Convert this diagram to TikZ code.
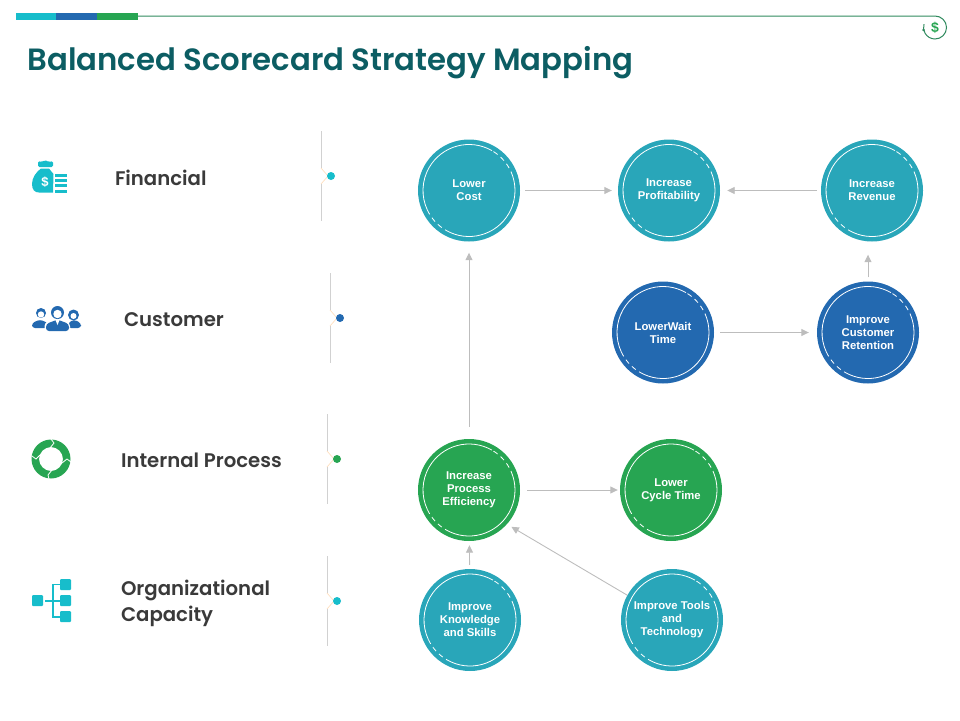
\documentclass[tikz,border=0pt]{standalone}
\usepackage{fontspec}
\setmainfont{Liberation Sans}
\newfontfamily\headfont[BoldFont={Poppins SemiBold}]{Poppins}
\usetikzlibrary{arrows.meta}
\definecolor{cteal}{HTML}{29A6B9}
\definecolor{cblue}{HTML}{2369B0}
\definecolor{cgreen}{HTML}{27A552}
\definecolor{bteal}{HTML}{17BDCB}
\definecolor{ttl}{HTML}{0C5D63}
\definecolor{lbl}{HTML}{3A3A3A}
\definecolor{arr}{HTML}{BDBDBD}
\definecolor{topline}{HTML}{2F8A5E}
\tikzset{
 x=1pt,y=-1pt,
 disc/.style={circle,minimum size=102pt,inner sep=0pt,fill=#1,text=white,align=center,
   font=\fontsize{11.3}{13}\selectfont\bfseries},
 link/.style={draw=arr,line width=0.9pt,-{Triangle[length=7.5pt,width=7pt]}},
 sidelabel/.style={anchor=west,align=left,text=lbl,font=\headfont\fontsize{19.7}{26}\selectfont\bfseries},
 ringline/.style={draw=white,line width=0.8pt},
 spine/.style={draw=black!18,line width=0.8pt},
 notch/.style={draw=orange!25,line width=0.7pt},
}
\newcommand{\ring}[1]{%
 \draw[ringline] (#1)++(60:46pt) arc[start angle=60,end angle=205,radius=46pt];
 \draw[ringline] (#1)++(240:46pt) arc[start angle=240,end angle=378,radius=46pt];
 \draw[ringline,dash pattern=on 5pt off 4pt] (#1)++(18:46pt) arc[start angle=18,end angle=60,radius=46pt];
 \draw[ringline,dash pattern=on 5pt off 4pt] (#1)++(205:46pt) arc[start angle=205,end angle=240,radius=46pt];
}
\newcommand{\sidemark}[3]{% x, ytop, colour
 \draw[spine] (#1,#2) -- ++(0,37);
 \draw[spine] (#1,#2+53) -- ++(0,37);
 \draw[notch] (#1,#2+37) -- ++(7,8) -- ++(-7,8);
 \fill[#3] (#1+10,#2+45) circle[radius=4pt];
}
\begin{document}
\begin{tikzpicture}
\useasboundingbox (0,0) rectangle (960,720);
% top bar
\fill[bteal] (16,13) rectangle (56,20);
\fill[cblue] (56,13) rectangle (97,20);
\fill[cgreen] (97,13) rectangle (138,20);
\draw[draw=topline,line width=1pt] (138,16) -- (935,16)
  arc[start angle=90,end angle=-197,radius=11.5pt];
\fill[topline] (923.5,30) circle[radius=1.3pt];
\node[text=cgreen,font=\fontsize{14}{14}\selectfont\bfseries] (dollar) at (935,27.5) {\$};
\node[anchor=west,text=ttl,font=\headfont\fontsize{30.75}{34}\selectfont\bfseries] (title) at (24,63) {Balanced Scorecard Strategy Mapping};
% side labels
\node[sidelabel] (l1) at (111.5,178) {Financial};
\node[sidelabel] (l2) at (120.5,320) {Customer};
\node[sidelabel] (l3) at (117.5,460) {Internal Process};
\node[sidelabel] (l4) at (117.5,603) {Organizational\\Capacity};
\sidemark{321}{131}{bteal}
\sidemark{330}{273}{cblue}
\sidemark{327}{414}{cgreen}
\sidemark{327}{556}{bteal}
% money bag icon
\fill[bteal,rounded corners=1.5pt] (38,161) -- (42,162) -- (45,160) -- (49,162) -- (53,161) -- (53,167) -- (38,167) -- cycle;
\fill[bteal] (41,168.5) .. controls (36,172) and (32,178) .. (32,184)
  .. controls (32,190) and (35,192.5) .. (39,192.5) -- (53,192.5) -- (53.5,174) -- (49,168.5) -- cycle;
\node[text=white,font=\fontsize{13}{13}\selectfont\bfseries,inner sep=0pt] (bagd) at (45,182) {\$};
\foreach \yy in {175,180,185,191}{\fill[bteal] (55,\yy-1.5) rectangle (67,\yy+1.5);}
% people icon
\fill[cblue,rounded corners=3pt] (32,328) -- (32,323) -- (40,319.5) -- (48,323) -- (48,328) -- cycle;
\fill[cblue] (41,313) circle[radius=5pt];
\fill[white] (41,314.5) circle[radius=3.2pt];
\fill[cblue,rounded corners=3pt] (68,328) -- (68,323) -- (74,319.5) -- (81,323) -- (81,328) -- cycle;
\fill[cblue] (73.5,315) circle[radius=5.5pt];
\fill[white] (73.5,316) circle[radius=3pt];
\fill[white,rounded corners=3pt] (44.5,332) -- (44.5,323) -- (57.5,318) -- (70,323) -- (70,332) -- cycle;
\fill[cblue,rounded corners=3pt] (46,331) -- (46,324) -- (57.5,319.5) -- (69,324) -- (69,331) -- cycle;
\fill[cblue] (57.5,312.5) circle[radius=6.5pt];
\fill[white] (57.5,314) circle[radius=4.2pt];
\fill[white] (55.5,320) -- (59.5,320) -- (57.5,325) -- cycle;
% cycle icon
\fill[cgreen,even odd rule] (51,459) circle[radius=19.5pt] (51,459) circle[radius=12pt];
\draw[white,line width=0.8pt] (51,439) -- (54,443) -- (50,448);
\draw[white,line width=0.8pt] (71,462) -- (67,459) -- (62,463);
\draw[white,line width=0.8pt] (49,479) -- (48,475) -- (52,470);
\draw[white,line width=0.8pt] (32,456) -- (36,459) -- (40,455);
% org icon
\fill[bteal,rounded corners=1pt] (32,595) rectangle (43,606);
\fill[bteal,rounded corners=1pt] (60,579) rectangle (71,590);
\fill[bteal,rounded corners=1pt] (60,595) rectangle (71,606);
\fill[bteal,rounded corners=1pt] (60,611) rectangle (71,622);
\draw[bteal,line width=1.2pt] (60,584.5) -- (53,584.5) -- (53,617) -- (60,617);
\draw[bteal,line width=1.2pt] (45,601) -- (60,601);
% circles
\node[disc=cteal] (cost) at (469,190.5) {Lower\\Cost};
\node[disc=cteal] (prof) at (669,190.5) {Increase\\Profitability};
\node[disc=cteal] (rev) at (872,190.5) {Increase\\Revenue};
\node[disc=cblue] (wait) at (663,332.5) {LowerWait\\Time};
\node[disc=cblue] (ret) at (868,332.5) {Improve\\Customer\\Retention};
\node[disc=cgreen] (proc) at (469,490) {Increase\\Process\\Efficiency};
\node[disc=cgreen] (cyc) at (671,490) {Lower\\Cycle Time};
\node[disc=cteal] (know) at (470,620) {Improve\\Knowledge\\and Skills};
\node[disc=cteal] (tool) at (672,620) {Improve Tools\\and\\Technology};
\foreach \n in {cost,prof,rev,wait,ret,proc,cyc,know,tool}{\ring{\n}}
% connectors
\draw[link,shorten <=5pt,shorten >=6pt] (cost) -- (prof);
\draw[link,shorten <=4pt,shorten >=7pt] (rev) -- (prof);
\draw[link,shorten <=4pt,shorten >=13pt] (ret.north) -- (ret.north |- rev.south);
\draw[link,shorten <=6pt,shorten >=8pt] (wait) -- (ret);
\draw[link,shorten <=12pt,shorten >=11pt] (proc) -- (cost);
\draw[link,shorten <=7pt,shorten >=2pt] (proc) -- (cyc);
\draw[link,shorten <=4pt,shorten >=4pt] (know) -- (proc);
\draw[link,shorten >=5pt] (tool.151) -- (proc.-42);
\end{tikzpicture}
\end{document}
